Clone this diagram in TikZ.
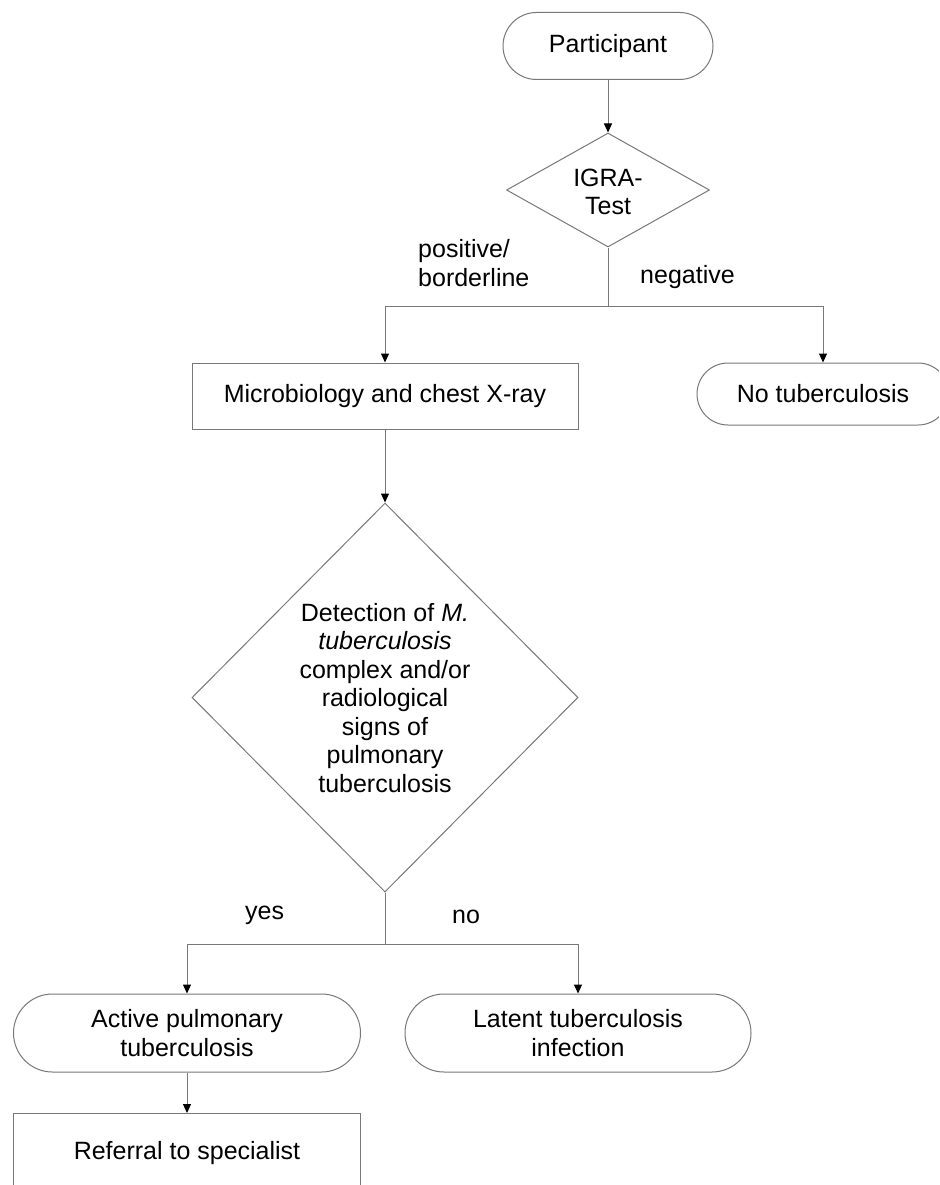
\documentclass[tikz,border=0pt]{standalone}
\usepackage{fontspec}
\setmainfont{Liberation Sans}
\usetikzlibrary{shapes.geometric,shapes.misc,arrows.meta}
\definecolor{ln}{RGB}{120,120,120}
\begin{document}
\begin{tikzpicture}[x=1pt,y=-1pt,
  every node/.style={font=\fontsize{25}{28.5}\selectfont, text=black, inner sep=0pt},
  capsule/.style={draw=ln, line width=1pt, rounded rectangle, rounded rectangle arc length=180, align=center},
  boxnode/.style={draw=ln, line width=1pt, rectangle, align=center},
  dia/.style={draw=ln, line width=1pt, diamond},
  txt/.style={align=center},
  lab/.style={anchor=west, align=left},
  conn/.style={draw=ln, line width=1pt},
  arr/.style={conn, -{Triangle[length=9pt,width=8pt,color=black]}}
]
\useasboundingbox (0,0) rectangle (939,1185);
\clip (0,0) rectangle (939,1185);
\fill[white] (0,0) rectangle (939,1185);

\node[capsule, minimum width=210, minimum height=67] (part) at (608,46) {Participant};

\node[dia, minimum width=203, minimum height=114] (igra) at (608,190) {};
\node[txt] (igratxt) at (608,192) {IGRA-\\Test};

\node[boxnode, minimum width=386, minimum height=66] (micro) at (385,396) {Microbiology and chest X-ray};

\node[capsule, minimum width=252, minimum height=62] (notb) at (823,394) {No tuberculosis};

\node[dia, minimum width=386, minimum height=389] (det) at (385,697.5) {};
\node[txt] (dettxt) at (385,698) {Detection of \textit{M.}\\\textit{tuberculosis}\\complex and/or\\radiological\\signs of\\pulmonary\\tuberculosis};

\node[capsule, minimum width=347, minimum height=78] (active) at (187,1033) {Active pulmonary\\tuberculosis};
\node[capsule, minimum width=346, minimum height=78] (latent) at (578,1033) {Latent tuberculosis\\infection};

\node[boxnode, minimum width=347, minimum height=80, anchor=north] (ref) at (187,1113) {Referral to specialist};

\coordinate (j1) at (608,306);
\coordinate (j2) at (385,944);

\draw[arr] (part.south) -- (igra.north);
\draw[conn] (igra.south) -- (j1);
\draw[arr] (j1) -| (micro.north);
\draw[arr] (j1) -| (notb.north);
\draw[arr] (micro.south) -- (det.north);
\draw[conn] (det.south) -- (j2);
\draw[arr] (j2) -| (active.north);
\draw[arr] (j2) -| (latent.north);
\draw[arr] (active.south) -- (ref.north);

\node[lab] (lpos) at (418,263) {positive/\\borderline};
\node[lab] (lneg) at (640,277) {negative};
\node[lab] (lyes) at (245,915) {yes};
\node[lab] (lno) at (452,917) {no};
\end{tikzpicture}
\end{document}
